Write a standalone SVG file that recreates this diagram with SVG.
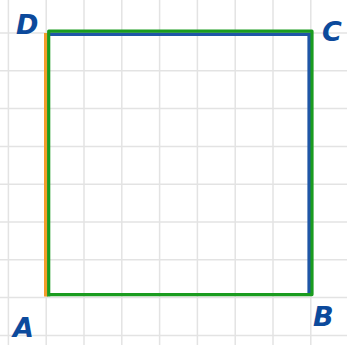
<svg xmlns="http://www.w3.org/2000/svg" width="347" height="345" viewBox="0 0 347 345">
<style>
.grid line{stroke:#e3e3e3;stroke-width:1.5}
.lbl{font-family:"DejaVu Sans",sans-serif;font-style:italic;font-weight:bold;font-size:27px;fill:#0c4a9c}
</style>
<rect width="347" height="345" fill="#ffffff"/>
<g class="grid">
<line x1="8.4" y1="0" x2="8.4" y2="345"/>
<line x1="46.2" y1="0" x2="46.2" y2="345"/>
<line x1="84" y1="0" x2="84" y2="345"/>
<line x1="121.8" y1="0" x2="121.8" y2="345"/>
<line x1="159.6" y1="0" x2="159.6" y2="345"/>
<line x1="197.4" y1="0" x2="197.4" y2="345"/>
<line x1="235.2" y1="0" x2="235.2" y2="345"/>
<line x1="273" y1="0" x2="273" y2="345"/>
<line x1="310.8" y1="0" x2="310.8" y2="345"/>
<line x1="0" y1="33" x2="347" y2="33"/>
<line x1="0" y1="70.8" x2="347" y2="70.8"/>
<line x1="0" y1="108.6" x2="347" y2="108.6"/>
<line x1="0" y1="146.4" x2="347" y2="146.4"/>
<line x1="0" y1="184.2" x2="347" y2="184.2"/>
<line x1="0" y1="222" x2="347" y2="222"/>
<line x1="0" y1="259.8" x2="347" y2="259.8"/>
<line x1="0" y1="297.6" x2="347" y2="297.6"/>
<line x1="0" y1="335.4" x2="347" y2="335.4"/>
</g>
<g id="connectors" fill="none">
<line x1="46" y1="33" x2="46" y2="296.5" stroke="#f39c2a" stroke-width="4"/>
<path d="M48 34.2 H309.2 V294" stroke="#1f56a6" stroke-width="3.6"/>
<path d="M48.7 296.5 V31.2 H312 V294.6 H48.7" stroke="#1a9c1f" stroke-width="3.2" stroke-linejoin="round"/>
</g>
<g id="D"><text class="lbl" x="16" y="34">D</text></g>
<g id="C"><text class="lbl" x="322" y="41">C</text></g>
<g id="A"><text class="lbl" x="13" y="337">A</text></g>
<g id="B"><text class="lbl" x="313" y="326">B</text></g>
</svg>
